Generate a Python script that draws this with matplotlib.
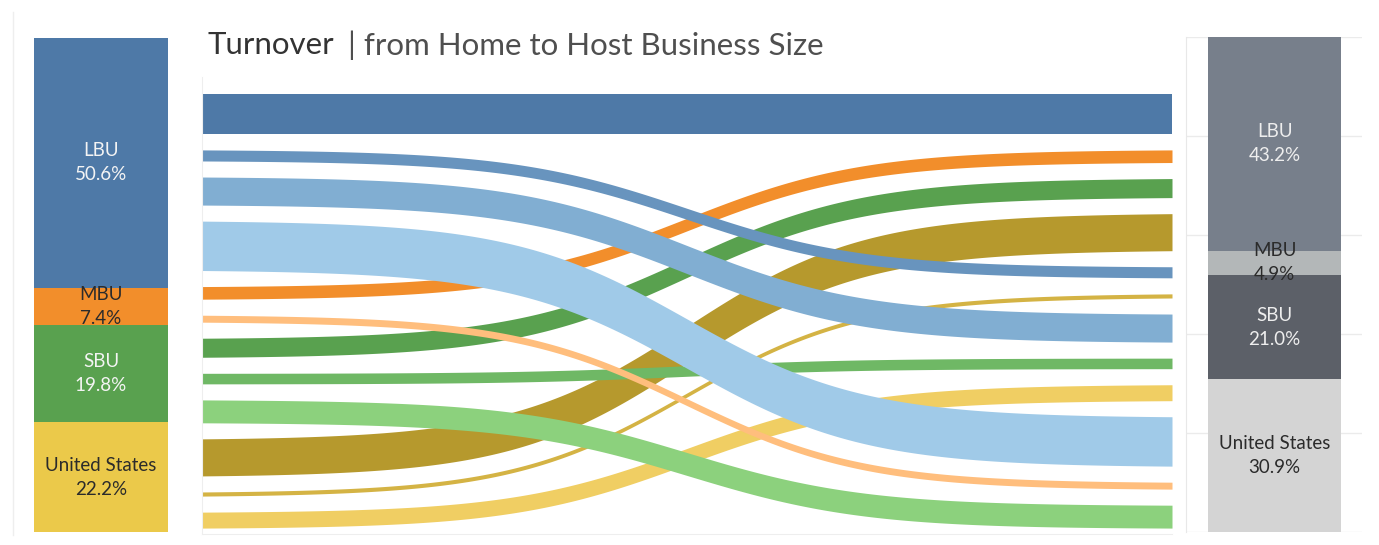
import matplotlib.pyplot as plt
import numpy as np

plt.rcParams['font.family'] = ['Lato', 'DejaVu Sans']

# ---- data ----
categories = ['LBU', 'MBU', 'SBU', 'United States']

# business size share at home (left) and at host (right), in %
home_share = [50.6, 7.4, 19.8, 22.2]
host_share = [43.2, 4.9, 21.0, 30.9]

# flows from home size to host size (share of total, %)
flow_home = ['LBU', 'LBU', 'LBU', 'LBU',
             'MBU', 'MBU',
             'SBU', 'SBU', 'SBU',
             'United States', 'United States', 'United States']
flow_host = ['LBU', 'MBU', 'SBU', 'United States',
             'LBU', 'United States',
             'LBU', 'SBU', 'United States',
             'LBU', 'MBU', 'SBU']
flow_value = [15.5, 4.3, 10.9, 19.2,
              4.9, 2.7,
              7.4, 4.1, 8.9,
              14.4, 1.6, 6.2]

# ---- styles ----
home_colors = {'LBU': '#4e79a7', 'MBU': '#f28e2b', 'SBU': '#59a14f', 'United States': '#ebc94a'}
host_colors = {'LBU': '#777f8b', 'MBU': '#b3b7b8', 'SBU': '#5c6068', 'United States': '#d4d4d4'}
home_text = {'LBU': '#f4f4f4', 'MBU': '#2b2b2b', 'SBU': '#f4f4f4', 'United States': '#2b2b2b'}
host_text = {'LBU': '#eeeeee', 'MBU': '#2b2b2b', 'SBU': '#eeeeee', 'United States': '#2b2b2b'}
flow_colors = {
    ('LBU', 'LBU'): '#4e79a7', ('LBU', 'MBU'): '#6894be', ('LBU', 'SBU'): '#81aed2',
    ('LBU', 'United States'): '#a0cae8',
    ('MBU', 'LBU'): '#f28e2b', ('MBU', 'United States'): '#ffbe7d',
    ('SBU', 'LBU'): '#59a14f', ('SBU', 'SBU'): '#6fb865', ('SBU', 'United States'): '#8cd17d',
    ('United States', 'LBU'): '#b6992d', ('United States', 'MBU'): '#d4b344',
    ('United States', 'SBU'): '#f0ce63',
}

W, H = 1379, 545
fig = plt.figure(figsize=(W / 100, H / 100), dpi=100)
fig.patch.set_facecolor('white')


def px_axes(x0, y0, x1, y1):
    return fig.add_axes([x0 / W, 1 - y1 / H, (x1 - x0) / W, (y1 - y0) / H])


def stacked_bar(ax, shares, colors, text_colors, xc, width):
    bottom = 0
    for cat, v in zip(categories, shares):
        ax.bar(xc, v, bottom=bottom, width=width, color=colors[cat], zorder=2)
        ax.text(xc, bottom + v / 2, f'{cat}\n{v:.1f}%', ha='center', va='center',
                fontsize=13.5, color=text_colors[cat], linespacing=1.5, zorder=3)
        bottom += v
    ax.set_xlim(0, 1)
    ax.set_ylim(100, 0)
    ax.set_xticks([])
    ax.set_yticks([])


# ---- left bar (home) ----
ax_l = px_axes(13, 38, 190, 532)
stacked_bar(ax_l, home_share, home_colors, home_text, 0.497, 0.754)
for s in ax_l.spines.values():
    s.set_visible(False)
fig.add_artist(plt.Line2D([13 / W, 13 / W], [1 - 12 / H, 1 - 535 / H], color='#eeeeee', lw=1))

# ---- right bar (host) ----
ax_r = px_axes(1186, 37, 1362, 532)
stacked_bar(ax_r, host_share, host_colors, host_text, 0.503, 0.756)
for y in range(0, 101, 20):
    ax_r.axhline(y, color='#ebebeb', lw=1, zorder=1)
for k, s in ax_r.spines.items():
    s.set_visible(k == 'left')
ax_r.spines['left'].set_color('#e8e8e8')

# ---- sankey flows ----
ax = px_axes(202, 77, 1172, 534)
gap = 6.24
pad_top, pad_bottom = 6.6, 2.3
n = len(flow_value)

left_order = sorted(range(n), key=lambda i: (categories.index(flow_home[i]), categories.index(flow_host[i])))
right_order = sorted(range(n), key=lambda i: (categories.index(flow_host[i]), categories.index(flow_home[i])))


def stack_positions(order):
    pos = {}
    y = 0
    for i in order:
        pos[i] = y
        y += flow_value[i] + gap
    return pos


y_left = stack_positions(left_order)
y_right = stack_positions(right_order)

x = np.linspace(0, 1, 400)
t = -5.5 + 11 * x
s = 1 / (1 + np.exp(-t))
s = (s - s[0]) / (s[-1] - s[0])

# draw US flows first so the LBU ones sit on top
for i in reversed(left_order):
    top = y_left[i] + (y_right[i] - y_left[i]) * s
    ax.fill_between(x, top, top + flow_value[i], color=flow_colors[(flow_home[i], flow_host[i])],
                    lw=0, zorder=2)

total = sum(flow_value) + (n - 1) * gap
ax.set_xlim(0, 1)
ax.set_ylim(total + pad_bottom, -pad_top)
ax.set_xticks([])
ax.set_yticks([])
for k, sp in ax.spines.items():
    sp.set_visible(k in ('left', 'bottom'))
    sp.set_color('#eeeeee')

# ---- title ----
t1 = fig.text(207 / W, 1 - 45 / H, 'Turnover', fontsize=22.5, color='#333333', va='center', ha='left')
fig.canvas.draw()
bb = t1.get_window_extent()
fig.text(bb.x1 / W + 14 / W, 1 - 45 / H, '| from Home to Host Business Size', fontsize=22.5,
         color='#4f4f4f', va='center', ha='left')

fig.savefig('out.png', dpi=100)
